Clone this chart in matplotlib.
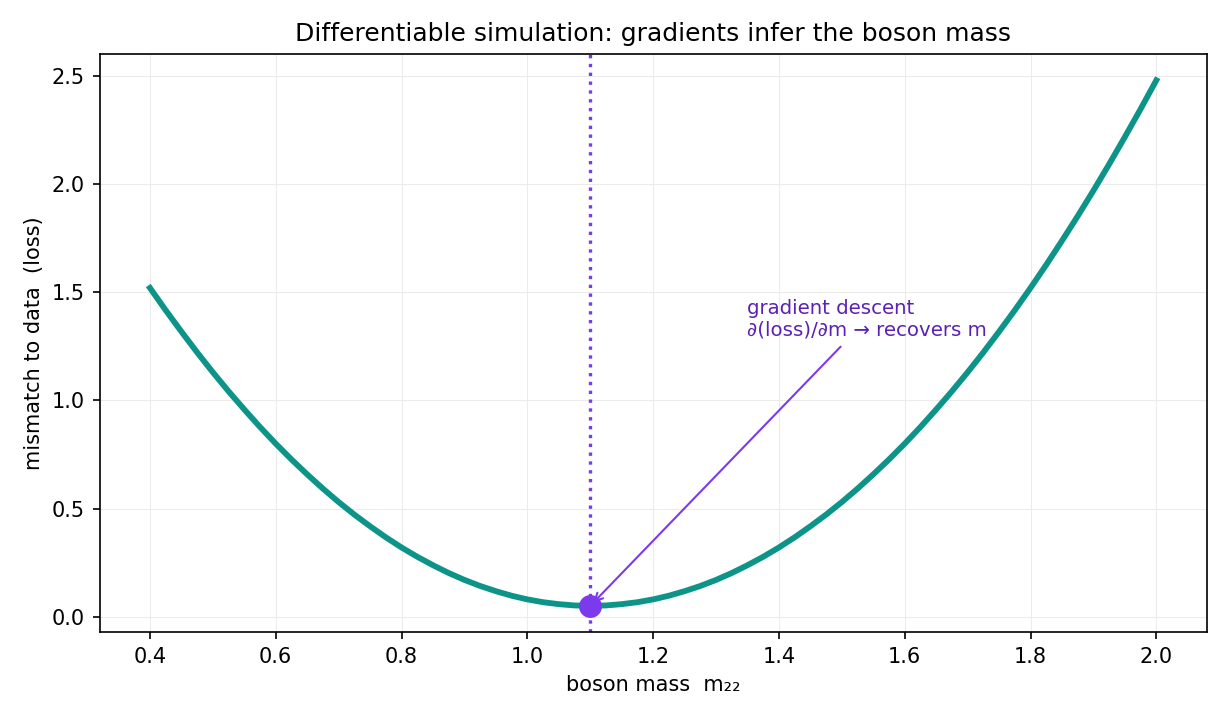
import matplotlib.pyplot as plt

plt.rcParams['font.family'] = ['DejaVu Sans']

# boson mass samples and loss values
mass = [0.400, 0.425, 0.450, 0.475, 0.500, 0.525, 0.550, 0.575, 0.600, 0.625,
        0.650, 0.675, 0.700, 0.725, 0.750, 0.775, 0.800, 0.825, 0.850, 0.875,
        0.900, 0.925, 0.950, 0.975, 1.000, 1.025, 1.050, 1.075, 1.100, 1.125,
        1.150, 1.175, 1.200, 1.225, 1.250, 1.275, 1.300, 1.325, 1.350, 1.375,
        1.400, 1.425, 1.450, 1.475, 1.500, 1.525, 1.550, 1.575, 1.600, 1.625,
        1.650, 1.675, 1.700, 1.725, 1.750, 1.775, 1.800, 1.825, 1.850, 1.875,
        1.900, 1.925, 1.950, 1.975, 2.000]
loss = [1.520, 1.417, 1.318, 1.222, 1.130, 1.042, 0.958, 0.877, 0.800, 0.727,
        0.658, 0.592, 0.530, 0.472, 0.418, 0.367, 0.320, 0.277, 0.238, 0.202,
        0.170, 0.142, 0.118, 0.097, 0.080, 0.067, 0.058, 0.052, 0.050, 0.052,
        0.058, 0.067, 0.080, 0.097, 0.118, 0.142, 0.170, 0.202, 0.238, 0.277,
        0.320, 0.367, 0.418, 0.472, 0.530, 0.592, 0.658, 0.727, 0.800, 0.877,
        0.958, 1.042, 1.130, 1.222, 1.318, 1.417, 1.520, 1.627, 1.738, 1.852,
        1.970, 2.092, 2.218, 2.347, 2.480]
m_true = 1.10
loss_min = 0.05

teal = '#0d9488'
purple = '#7c3aed'
text_purple = '#5b21b6'

fig, ax = plt.subplots(figsize=(8.2, 4.8), dpi=150)
ax.plot(mass, loss, color=teal, linewidth=2.8)
ax.axvline(m_true, color=purple, linestyle=':', linewidth=1.6)
ax.plot([m_true], [loss_min], 'o', color=purple, markersize=10, zorder=5)
ax.annotate('gradient descent\n\u2202(loss)/\u2202m \u2192 recovers m',
            xy=(m_true, loss_min), xytext=(1.35, 1.3),
            color=text_purple, fontsize=9.5,
            arrowprops=dict(arrowstyle='->', color=purple, lw=1.0))

ax.grid(True, color='#ebebeb', linewidth=0.5)
ax.set_axisbelow(True)
ax.set_title('Differentiable simulation: gradients infer the boson mass', fontsize=12)
ax.set_xlabel('boson mass  m\u2082\u2082', fontsize=10)
ax.set_ylabel('mismatch to data  (loss)', fontsize=10)
ax.tick_params(labelsize=10)

fig.subplots_adjust(left=0.081, right=0.981, top=0.925, bottom=0.122)
fig.savefig('out.png')
